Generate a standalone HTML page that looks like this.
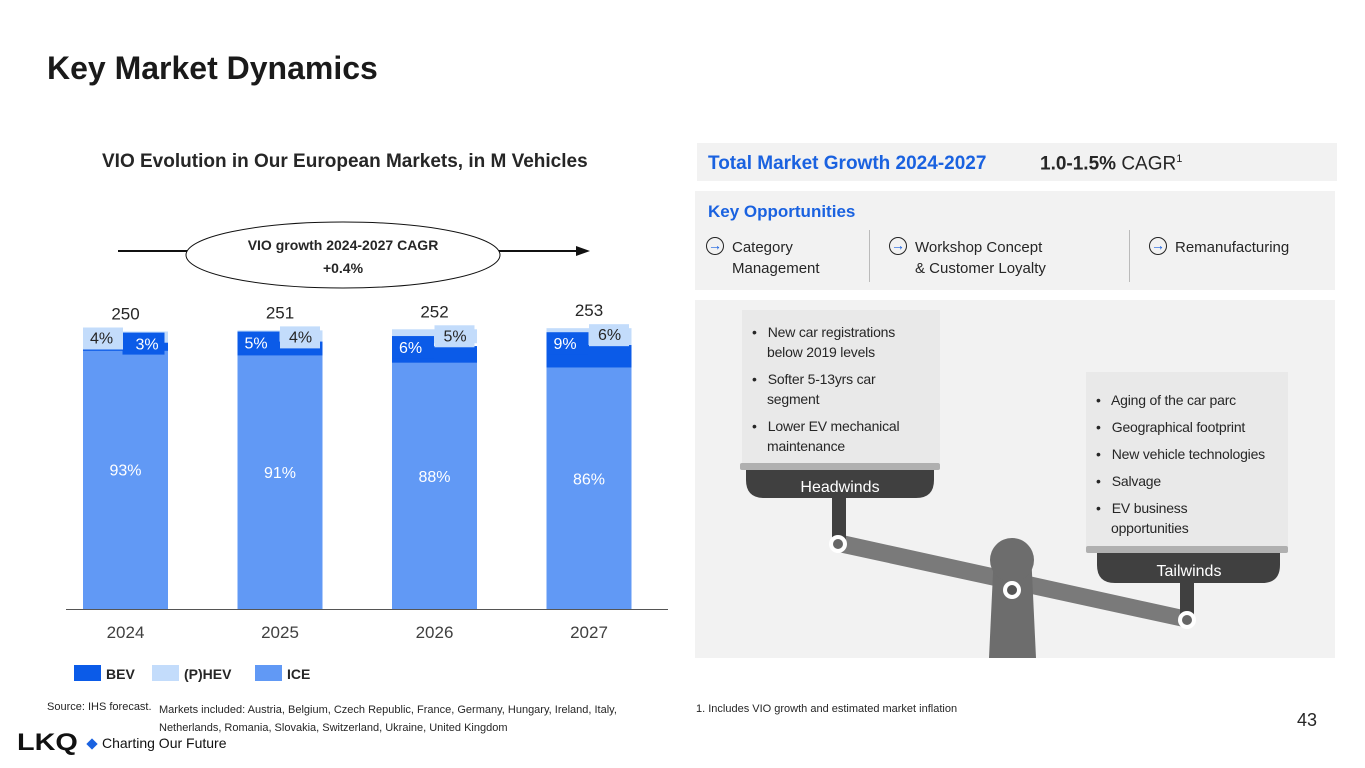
<!DOCTYPE html>
<html><head><meta charset="utf-8">
<style>
body{margin:0;width:1365px;height:768px;background:#fff;font-family:"Liberation Sans",sans-serif;position:relative;overflow:hidden;color:#262626}
.a{position:absolute}
.ic{position:absolute;left:-2px;top:0px;width:16px;height:16px;border:1.5px solid #222;border-radius:50%;font-size:14px;line-height:15px;text-align:center;color:#1a62e0;font-weight:bold}
</style></head><body>
<div class="a" style="left:47px;top:50px;font-size:32px;font-weight:bold;color:#1a1a1a">Key Market Dynamics</div>
<div class="a" style="left:102px;top:151px;font-size:19px;font-weight:bold;color:#262626">VIO Evolution in Our European Markets, in M Vehicles</div>

<svg class="a" id="chart" style="left:0;top:0" width="690" height="690"></svg>

<div class="a" style="left:47px;top:701px;font-size:11px">Source: IHS forecast.</div>
<div class="a" style="left:159px;top:701px;font-size:11px;line-height:18px">Markets included: Austria, Belgium, Czech Republic, France, Germany, Hungary, Ireland, Italy,<br>Netherlands, Romania, Slovakia, Switzerland, Ukraine, United Kingdom</div>
<div class="a" style="left:17px;top:729px;font-size:24px;font-weight:900;color:#111;letter-spacing:0px;transform:scaleX(1.2);transform-origin:left">LKQ</div>
<div class="a" style="left:88px;top:740px;width:8px;height:8px;background:#1a62e0;transform:rotate(45deg)"></div>
<div class="a" style="left:102px;top:735px;font-size:14px;color:#111">Charting Our Future</div>

<div class="a" style="left:697px;top:143px;width:640px;height:38px;background:#f2f2f2"></div>
<div class="a" style="left:708px;top:153px;font-size:19px;font-weight:bold;color:#1a62e0">Total Market Growth 2024-2027</div>
<div class="a" style="left:1040px;top:153px;font-size:19px"><b>1.0-1.5%</b> CAGR<sup style="font-size:11px">1</sup></div>

<div class="a" style="left:695px;top:191px;width:640px;height:99px;background:#f2f2f2"></div>
<div class="a" style="left:708px;top:202px;font-size:17px;font-weight:bold;color:#1a62e0">Key Opportunities</div>
<div class="a" style="left:708px;top:237px;font-size:15px;line-height:21px"><span class="ic">→</span><div style="margin-left:24px">Category<br>Management</div></div>
<div class="a" style="left:869px;top:230px;width:1px;height:52px;background:#bbb"></div>
<div class="a" style="left:891px;top:237px;font-size:15px;line-height:21px"><span class="ic">→</span><div style="margin-left:24px">Workshop Concept<br>&amp; Customer Loyalty</div></div>
<div class="a" style="left:1129px;top:230px;width:1px;height:52px;background:#bbb"></div>
<div class="a" style="left:1151px;top:237px;font-size:15px;line-height:21px"><span class="ic">→</span><div style="margin-left:24px">Remanufacturing</div></div>

<div class="a" style="left:695px;top:300px;width:640px;height:358px;background:#f2f2f2"></div>
<svg class="a" style="left:0;top:0" width="1365" height="768">
<rect x="742" y="310" width="198" height="153" fill="#e9e9e9"/>
<rect x="1086" y="372" width="202" height="176" fill="#e9e9e9"/>
<polygon points="838,534 1188,611 1188,628 838,552" fill="#7a7a7a"/>
<polygon points="994,552 1031,552 1036,658 989,658" fill="#6d6d6d"/>
<circle cx="1012" cy="560" r="22" fill="#6d6d6d"/>
<circle cx="1012" cy="590" r="9" fill="#fff"/><circle cx="1012" cy="590" r="5" fill="#555"/>
<rect x="832" y="498" width="14" height="42" fill="#404040"/>
<rect x="1180" y="583" width="14" height="32" fill="#404040"/>
<circle cx="838" cy="544" r="9" fill="#fff"/><circle cx="838" cy="544" r="5" fill="#666"/>
<circle cx="1187" cy="620" r="9" fill="#fff"/><circle cx="1187" cy="620" r="5" fill="#666"/>
<rect x="740" y="463" width="200" height="7" rx="2" fill="#b0b0b0"/>
<path d="M746 470 H934 V480 Q934 498 916 498 H764 Q746 498 746 480Z" fill="#404040"/>
<text x="840" y="492" text-anchor="middle" fill="#fff" font-size="16" font-family="Liberation Sans">Headwinds</text>
<rect x="1086" y="546" width="202" height="7" rx="2" fill="#b0b0b0"/>
<path d="M1097 553 H1280 V565 Q1280 583 1262 583 H1115 Q1097 583 1097 565Z" fill="#404040"/>
<text x="1189" y="576" text-anchor="middle" fill="#fff" font-size="16" font-family="Liberation Sans">Tailwinds</text>
</svg>
<div class="a" style="left:752px;top:322px;font-size:14px;line-height:20px;letter-spacing:-0.2px">
<div style="padding-left:15px;text-indent:-15px">•&nbsp;&nbsp; New car registrations<br>below 2019 levels</div>
<div style="padding-left:15px;text-indent:-15px;margin-top:7px">•&nbsp;&nbsp; Softer 5-13yrs car<br>segment</div>
<div style="padding-left:15px;text-indent:-15px;margin-top:7px">•&nbsp;&nbsp; Lower EV mechanical<br>maintenance</div></div>
<div class="a" style="left:1096px;top:390px;font-size:14px;line-height:20px;letter-spacing:-0.2px">
<div>•&nbsp;&nbsp; Aging of the car parc</div>
<div style="margin-top:7px">•&nbsp;&nbsp; Geographical footprint</div>
<div style="margin-top:7px">•&nbsp;&nbsp; New vehicle technologies</div>
<div style="margin-top:7px">•&nbsp;&nbsp; Salvage</div>
<div style="padding-left:15px;text-indent:-15px;margin-top:7px">•&nbsp;&nbsp; EV business<br>opportunities</div></div>
<div class="a" style="left:696px;top:703px;font-size:11px">1. Includes VIO growth and estimated market inflation</div>
<div class="a" style="left:1297px;top:710px;font-size:18px">43</div>

<script>
const years=["2024","2025","2026","2027"];
const totals=[250,251,252,253];
const icePct=[93,91,88,86];
const bevPct=[3,5,6,9];
const hevPct=[4,4,5,6];
const NS="http://www.w3.org/2000/svg";
const svg=document.getElementById('chart');
const base=609, pxPerUnit=1.11, barW=85;
const x=i=>83+i*154.5;
const y=v=>base-v*pxPerUnit;
function el(t,a,p){const e=document.createElementNS(NS,t);for(const k in a)e.setAttribute(k,a[k]);(p||svg).appendChild(e);return e;}
let ln=el('line',{x1:118,y1:251,x2:580,y2:251,stroke:'#111','stroke-width':2});


el('polygon',{points:'590,251 576,246 576,256',fill:'#111'});
let ell=el('ellipse',{cx:343,cy:255,rx:157,ry:33,fill:'#fff',stroke:'#111','stroke-width':1});


let t1=el('text',{x:343,y:250,'text-anchor':'middle','font-size':14,'font-weight':'bold',fill:'#262626'});t1.textContent='VIO growth 2024-2027 CAGR';


let t2=el('text',{x:343,y:273,'text-anchor':'middle','font-size':14,'font-weight':'bold',fill:'#262626'});t2.textContent='+0.4%';


let ax=el('line',{x1:66,y1:609.5,x2:668,y2:609.5,stroke:'#555','stroke-width':1});


years.forEach((yr,i)=>{
  const tot=totals[i];
  const ice=tot*icePct[i]/100, bev=tot*bevPct[i]/100, hev=tot*hevPct[i]/100;
  const xi=x(i);
  let r=el('rect',{x:xi,y:y(ice),width:barW,height:ice*pxPerUnit,fill:'#6199f5'});
  
  
  r=el('rect',{x:xi,y:y(ice+bev),width:barW,height:bev*pxPerUnit,fill:'#0b5be8'});
  
  
  r=el('rect',{x:xi,y:y(tot),width:barW,height:hev*pxPerUnit,fill:'#c3dcfb'});
  
  
  const bevLeft=bevPct[i]>=hevPct[i];
  const bx=bevLeft?xi:xi+barW/2-3, hx=bevLeft?xi+barW/2:xi;
  let b=el('rect',{x:bx,y:y(ice+bev)-10,width:42,height:22,fill:'#0b5be8'});
  
  
  let bt=el('text',{x:bx+(bevLeft?7:13),y:y(ice+bev)+7,'font-size':16,fill:'#fff'});bt.textContent=bevPct[i]+'%';
  
  
  let h=el('rect',{x:hx,y:y(tot)-4,width:40,height:22,fill:'#c3dcfb'});
  
  
  let ht=el('text',{x:hx+(bevLeft?9:7),y:y(tot)+12,'font-size':16,fill:'#262626'});ht.textContent=hevPct[i]+'%';
  
  
  let it=el('text',{x:xi+barW/2,y:y(ice*0.54)+6,'text-anchor':'middle','font-size':16,fill:'#fff'});it.textContent=icePct[i]+'%';
  
  
  let tt=el('text',{x:xi+barW/2,y:y(tot)-12,'text-anchor':'middle','font-size':17,fill:'#262626'});tt.textContent=tot;
  
  
  let xl=el('text',{x:xi+barW/2,y:638,'text-anchor':'middle','font-size':17,fill:'#404040'});xl.textContent=yr;
  
  
});
const legend=[["BEV","#0b5be8",74],["(P)HEV","#c3dcfb",152],["ICE","#6199f5",255]];
legend.forEach(([n,c,lx])=>{
  let r=el('rect',{x:lx,y:665,width:27,height:16,fill:c});
  
  
  let t=el('text',{x:lx+32,y:679,'font-size':14,'font-weight':'bold',fill:'#262626'});t.textContent=n;
  
  
});
</script>
</body></html>
